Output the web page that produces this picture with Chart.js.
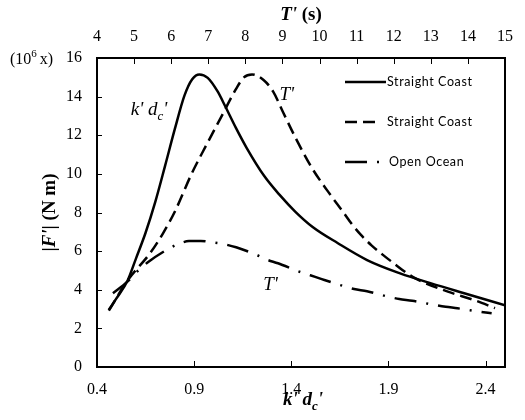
<!DOCTYPE html>
<html>
<head>
<meta charset="utf-8">
<script src="https://cdn.jsdelivr.net/npm/chart.js@4"></script>
<style>
  html, body { margin: 0; padding: 0; background: #fff; }
</style>
</head>
<body>
<canvas id="forceChart" width="525" height="420"></canvas>
<script>
// 坐标轴刻度
const kTicks = [0.4, 0.9, 1.4, 1.9, 2.4];

// Straight Coast（实线，对 k'd_c'）
const solidK = [0.46, 0.50, 0.557, 0.60, 0.65, 0.70, 0.75, 0.80, 0.85, 0.89, 0.927, 0.97, 1.02, 1.06, 1.115, 1.17, 1.26, 1.34, 1.42, 1.51, 1.64, 1.79, 1.96, 2.12, 2.29, 2.5];
const solidF = [2.95, 3.55, 4.47, 5.6, 6.95, 8.55, 10.4, 12.3, 14.05, 14.9, 15.15, 14.97, 14.28, 13.5, 12.38, 11.35, 9.9, 8.91, 8.05, 7.25, 6.41, 5.54, 4.85, 4.33, 3.82, 3.2];

// Straight Coast（虚线，对 T'）
const dashT = [4.32, 4.82, 5.43, 5.78, 6.10, 6.55, 6.95, 7.35, 7.75, 7.96, 8.18, 8.49, 8.75, 9.01, 9.36, 9.80, 10.23, 10.63, 10.87, 11.11, 11.4, 11.7, 11.98, 12.5, 13.46, 14.16, 14.73];
const dashF = [2.92, 4.47, 5.89, 6.92, 8.05, 10.0, 11.5, 12.95, 14.4, 15.0, 15.15, 14.86, 14.26, 13.22, 11.84, 10.29, 9.08, 8.04, 7.4, 6.85, 6.3, 5.82, 5.4, 4.68, 3.9, 3.47, 3.05];

// Open Ocean（点划线，对 T'）
const oceanT = [4.43, 4.82, 5.08, 5.39, 5.87, 6.17, 6.48, 6.8, 7.09, 7.40, 7.75, 8.31, 8.58, 8.88, 9.45, 9.75, 10.06, 10.63, 10.93, 11.28, 11.85, 12.15, 12.5, 13.11, 13.4, 13.72, 14.34, 14.64];
const oceanF = [3.82, 4.42, 4.94, 5.45, 6.06, 6.35, 6.52, 6.53, 6.46, 6.37, 6.2, 5.8, 5.56, 5.37, 4.94, 4.75, 4.55, 4.2, 4.04, 3.92, 3.64, 3.52, 3.43, 3.21, 3.12, 3.04, 2.86, 2.78];

const seriesNames = ["Straight Coast", "Straight Coast", "Open Ocean"];

const serif = "'Liberation Serif', 'Times New Roman', serif";
const dashPat = [12, 6];
const dashDotPat = [22, 10, 2, 10];

function pairs(xs, ys) {
  return xs.map((x, i) => ({ x: x, y: ys[i] }));
}

// 按顺序绘制混合字体的文字
function runsWidth(ctx, runs) {
  let w = 0;
  runs.forEach(r => { ctx.font = r.font; w += ctx.measureText(r.t).width + (r.gap || 0); });
  return w;
}
function drawRuns(ctx, runs, x, y) {
  runs.forEach(r => {
    ctx.font = r.font;
    ctx.fillText(r.t, x, y + (r.dy || 0));
    x += ctx.measureText(r.t).width + (r.gap || 0);
  });
}

const decorations = {
  id: "decorations",
  afterDraw(chart) {
    const { ctx, chartArea: a, scales } = chart;
    ctx.save();
    ctx.fillStyle = "#000";
    ctx.strokeStyle = "#000";

    // 边框
    ctx.lineWidth = 2;
    ctx.strokeRect(a.left, a.top, a.right - a.left, a.bottom - a.top);

    // 向内的刻度线
    ctx.lineWidth = 1;
    ctx.beginPath();
    scales.y.ticks.forEach(t => {
      const p = Math.round(scales.y.getPixelForValue(t.value)) + 0.5;
      ctx.moveTo(a.left, p); ctx.lineTo(a.left + 5, p);
    });
    scales.x.ticks.forEach(t => {
      const p = Math.round(scales.x.getPixelForValue(t.value)) + 0.5;
      ctx.moveTo(p, a.bottom); ctx.lineTo(p, a.bottom - 6);
    });
    scales.x2.ticks.forEach(t => {
      const p = Math.round(scales.x2.getPixelForValue(t.value)) + 0.5;
      ctx.moveTo(p, a.top); ctx.lineTo(p, a.top + 6);
    });
    ctx.stroke();

    ctx.textBaseline = "alphabetic";
    ctx.textAlign = "left";
    const cx = (a.left + a.right) / 2;

    // 上方标题 T' (s)
    let runs = [
      { t: "T'", font: "italic bold 19px " + serif },
      { t: " (s)", font: "bold 19px " + serif }
    ];
    drawRuns(ctx, runs, cx - runsWidth(ctx, runs) / 2, 20);

    // 下方标题 k' d_c'
    runs = [
      { t: "k' d", font: "italic bold 19px " + serif },
      { t: "c", font: "italic bold 13px " + serif, dy: 5 },
      { t: "'", font: "italic bold 19px " + serif }
    ];
    drawRuns(ctx, runs, cx + 2 - runsWidth(ctx, runs) / 2, 405);

    // 纵轴标题 |F'| (N m)
    runs = [
      { t: "|", font: "bold 19px " + serif },
      { t: "F'", font: "italic bold 19px " + serif },
      { t: "| (N m)", font: "bold 19px " + serif }
    ];
    ctx.save();
    ctx.translate(55, (a.top + a.bottom) / 2);
    ctx.rotate(-Math.PI / 2);
    drawRuns(ctx, runs, -runsWidth(ctx, runs) / 2, 0);
    ctx.restore();

    // (10^6 x)
    runs = [
      { t: "(10", font: "16px " + serif },
      { t: "6", font: "11px " + serif, dy: -7, gap: 3 },
      { t: "x)", font: "16px " + serif }
    ];
    drawRuns(ctx, runs, 10, scales.y.getPixelForValue(16) + 6);

    // 图内标注
    let px = scales.x.getPixelForValue(0.574), py = scales.y.getPixelForValue(13.05);
    runs = [
      { t: "k' d", font: "italic 19px " + serif },
      { t: "c", font: "italic 13px " + serif, dy: 5 },
      { t: "'", font: "italic 19px " + serif }
    ];
    drawRuns(ctx, runs, px, py);
    ctx.font = "italic 19px " + serif;
    ctx.fillText("T'", scales.x2.getPixelForValue(8.92), scales.y.getPixelForValue(13.83));
    ctx.fillText("T'", scales.x2.getPixelForValue(8.48), scales.y.getPixelForValue(3.99));

    // 图例
    const lx0 = a.right - 160, lx1 = a.right - 119;
    const rows = [a.top + 24, a.top + 64, a.top + 104];
    const dashes = [[], dashPat, dashDotPat];
    const ends = [lx1, lx1 - 9, lx1];
    ctx.lineWidth = 2.5;
    rows.forEach((y, i) => {
      ctx.setLineDash(dashes[i]);
      ctx.beginPath();
      ctx.moveTo(lx0, y); ctx.lineTo(ends[i], y);
      ctx.stroke();
    });
    ctx.setLineDash([]);
    ctx.font = "12.5px Lato, 'Open Sans', sans-serif";
    ctx.letterSpacing = "0.6px";
    ctx.textBaseline = "middle";
    rows.forEach((y, i) => {
      ctx.fillText(seriesNames[i], i === 2 ? lx1 + 3 : lx1 + 1, y);
    });
    ctx.restore();
  }
};

const ctx = document.getElementById("forceChart").getContext("2d");
new Chart(ctx, {
  type: "scatter",
  data: {
    datasets: [
      {
        label: seriesNames[0],
        data: pairs(solidK, solidF),
        xAxisID: "x",
        showLine: true,
        borderColor: "#000",
        borderWidth: 2.5,
        pointRadius: 0,
        cubicInterpolationMode: "monotone"
      },
      {
        label: seriesNames[1],
        data: pairs(dashT, dashF),
        xAxisID: "x2",
        showLine: true,
        borderColor: "#000",
        borderWidth: 2.5,
        borderDash: dashPat,
        pointRadius: 0,
        cubicInterpolationMode: "monotone"
      },
      {
        label: seriesNames[2],
        data: pairs(oceanT, oceanF),
        xAxisID: "x2",
        showLine: true,
        borderColor: "#000",
        borderWidth: 2.5,
        borderDash: dashDotPat,
        pointRadius: 0,
        cubicInterpolationMode: "monotone"
      }
    ]
  },
  options: {
    responsive: false,
    animation: false,
    layout: { autoPadding: false, padding: { left: 0, right: 8, top: 0, bottom: 0 } },
    plugins: {
      legend: { display: false },
      tooltip: { enabled: false }
    },
    scales: {
      x: {
        type: "linear",
        position: "bottom",
        min: 0.4,
        max: 2.5,
        afterBuildTicks: s => { s.ticks = kTicks.map(v => ({ value: v })); },
        afterFit: s => { s.height = 53; },
        grid: { display: false, drawTicks: false },
        border: { display: false },
        ticks: {
          padding: 13,
          color: "#000",
          font: { family: serif, size: 16 },
          callback: v => v.toFixed(1)
        }
      },
      x2: {
        type: "linear",
        position: "top",
        min: 4,
        max: 15,
        afterFit: s => { s.height = 58; },
        grid: { display: false, drawTicks: false },
        border: { display: false },
        ticks: {
          stepSize: 1,
          padding: 12,
          color: "#000",
          font: { family: serif, size: 16 }
        }
      },
      y: {
        min: 0,
        max: 16,
        afterFit: s => { s.width = 97; },
        grid: { display: false, drawTicks: false },
        border: { display: false },
        ticks: {
          stepSize: 2,
          padding: 15,
          color: "#000",
          font: { family: serif, size: 16 }
        }
      }
    }
  },
  plugins: [decorations]
});
</script>
</body>
</html>
